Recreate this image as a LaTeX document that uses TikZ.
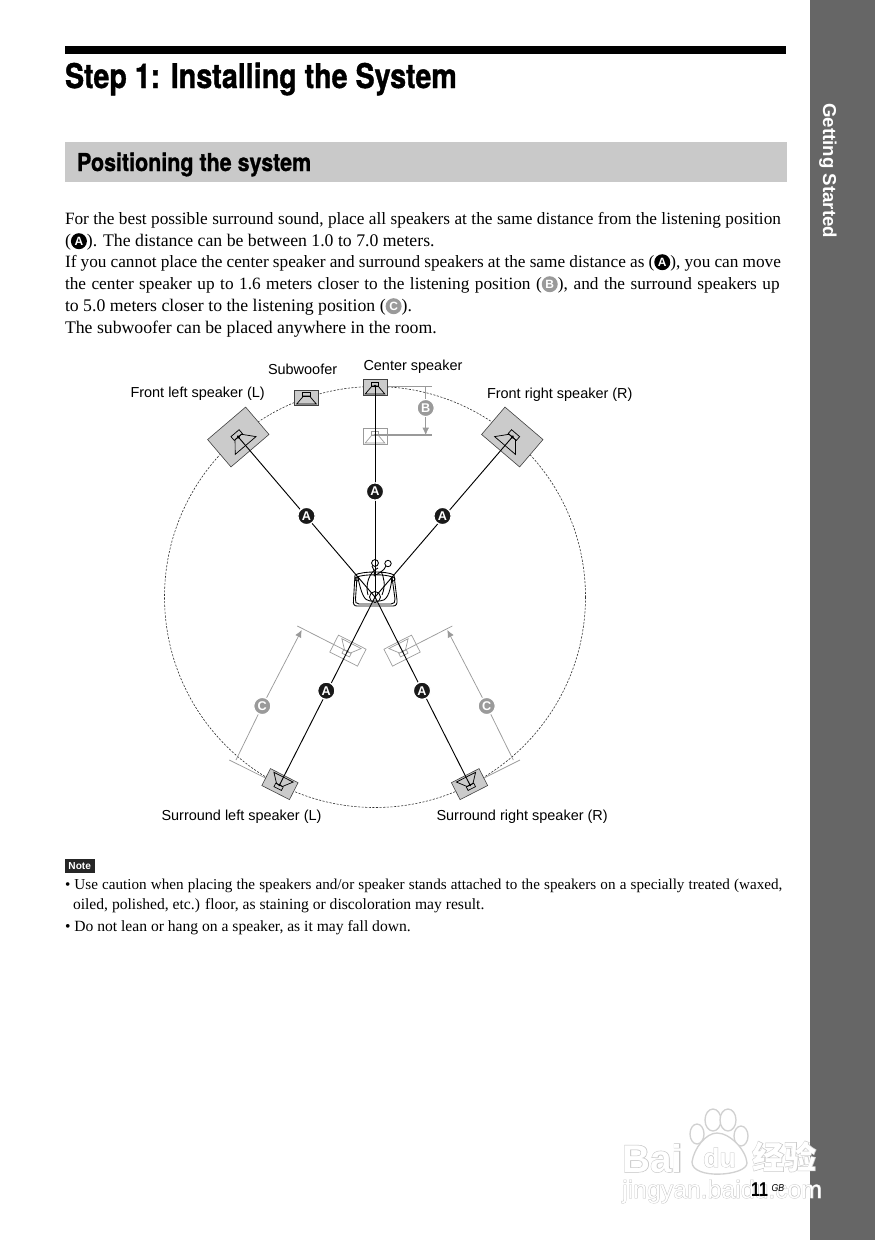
\documentclass[tikz,border=0pt]{standalone}
\usepackage{fontspec}
\usepackage{graphicx}
\setmainfont{Liberation Serif}
\setsansfont{Liberation Sans}
\newfontfamily\heros[FakeBold=1.2]{TeX Gyre Heros Bold}
\newfontfamily\cjk{Noto Sans CJK SC}
\newfontfamily\wmhalo[FakeBold=3]{Liberation Sans}
\newfontfamily\cjkhalo[FakeBold=3]{Noto Sans CJK SC}
\newcommand{\fsz}[1]{\fontsize{#1}{#1}\selectfont}
\newcommand{\inl}[2]{\tikz[baseline=-3.6pt,x=1pt,y=1pt]\node[anchor=center,circle,fill=#1,text=white,inner sep=0pt,outer sep=0pt,minimum size=12pt,font=\sffamily\bfseries\fsz{9pt}]{#2};}
\newcommand{\just}[1]{\makebox[537pt][s]{#1}}
\definecolor{band}{HTML}{666666}
\definecolor{sec}{HTML}{C9C9C9}
\definecolor{spk}{HTML}{CBCBCB}
\definecolor{ghost}{HTML}{9A9A9A}
\usetikzlibrary{arrows.meta}
\tikzset{
  txt/.style={anchor=base west,inner sep=0pt,outer sep=0pt},
  bodytxt/.style={txt,font=\rmfamily\fsz{13.3pt}},
  bodyfit/.style={txt,font=\rmfamily\fsz{12.95pt}},
  notetxt/.style={txt,font=\rmfamily\fsz{11.7pt}},
  notefit/.style={txt,font=\rmfamily\fsz{11.35pt}},
  lab/.style={txt,font=\sffamily\fsz{10.85pt}},
  disc/.style={circle,inner sep=0pt,minimum size=13pt,draw=white,line width=1pt,text=white,font=\sffamily\bfseries\fsz{9.5pt}},
  blackdisc/.style={disc,fill=black!90},
  greydisc/.style={disc,fill=ghost},
  solidbox/.style={draw=black!75,fill=spk,line width=0.45pt},
  solidin/.style={draw=black,line width=0.55pt},
  solidpt/.style={fill=black},
  subbox/.style={solidbox},
  subin/.style={solidin},
  subpt/.style={fill=none},
  ghostbox/.style={draw=ghost,fill=white,line width=0.5pt},
  ghostin/.style={draw=ghost,line width=0.5pt},
  ghostpt/.style={fill=ghost},
  wire/.style={draw=black,line width=0.7pt},
  dim/.style={draw=ghost,line width=0.55pt},
  dimarrow/.style={dim,-{Latex[length=5.5pt,width=5pt]}},
  chair/.style={draw=black,line width=0.65pt},
  wmh/.style={anchor=base west,inner sep=0pt,text=black!22},
  wmw/.style={anchor=base west,inner sep=0pt,text=white},
  paw/.style={draw=black!18,fill=white,line width=1pt}
}
% name, position, rotation, half width, box top, box bottom, inner scale, style prefix
\newcommand{\spkr}[8]{%
  \coordinate (#1) at #2;
  \begin{scope}[shift={(#1)},rotate=#3]
    \path[#8box] (-#4,#5) rectangle (#4,#6);
    \begin{scope}[scale=#7]
      \path[#8in] (-3.8,-3.6) rectangle (3.8,0);
      \path[#8in] (-3,0) -- (-9.8,8) -- (9.8,8) -- (3,0) -- cycle;
      \fill[#8pt] (0,0) circle (1.3);
    \end{scope}
  \end{scope}}
\begin{document}
\begin{tikzpicture}[x=0.75pt,y=-0.75pt]
\useasboundingbox (0,0) rectangle (875,1240);
\fill[white] (0,0) rectangle (875,1240);
% side band
\fill[band] (810,0) rectangle (875,1240);
\node[anchor=base west,inner sep=0pt,text=white,rotate=-90,font=\sffamily\bfseries\fsz{14pt}] (side) at (823,103) {Getting Started};
% heading
\fill[black] (65,46) rectangle (786,53.5);
\node[txt,font=\heros\fsz{25.5pt}] (title) at (65,88) {\scalebox{0.842}[1]{Step 1: Installing the System}};
\fill[sec] (65,142) rectangle (787,182);
\node[txt,font=\heros\fsz{18.5pt}] (section) at (77,171) {\scalebox{0.87}[1]{Positioning the system}};
% body
\node[bodyfit] (l1) at (65,224) {\just{For the best possible surround sound, place all speakers at the same distance from the listening position}};
\node[bodytxt] (l2) at (65,246) {(\inl{black}{A}). The distance can be between 1.0 to 7.0 meters.};
\node[bodyfit] (l3) at (65,267) {\just{If you cannot place the center speaker and surround speakers at the same distance as (\inl{black}{A}), you can move}};
\node[bodyfit] (l4) at (65,289) {\makebox[536pt][s]{the center speaker up to 1.6 meters closer to the listening position (\inl{ghost}{B}), and the surround speakers up}};
\node[bodytxt] (l5) at (65,311) {to 5.0 meters closer to the listening position (\inl{ghost}{C}).};
\node[bodytxt] (l6) at (65,333) {The subwoofer can be placed anywhere in the room.};
% room circle
\coordinate (seat) at (375,597);
\draw[black!80,line width=0.45pt,dash pattern=on 1.6pt off 1.1pt] (seat) circle (210.5);
% ghost speakers
\spkr{gc}{(375,435)}{0}{12}{-7}{9}{1}{ghost}
\spkr{grl}{(347.5,651.5)}{153}{15.5}{-8.5}{10.5}{1.1}{ghost}
\spkr{grr}{(402.5,651.5)}{-153}{15.5}{-8.5}{10.5}{1.1}{ghost}
% anchors for dimension lines
\coordinate (cc) at (375,386);
\coordinate (rl) at (279.5,785);
\coordinate (rr) at (470,785);
\coordinate (bt) at (432,386);
\coordinate (bb) at (432,435);
\coordinate (cltop) at (297.3,626);
\coordinate (clbot) at (229.3,760);
\coordinate (crtop) at (452.3,626);
\coordinate (crbot) at (520,760);
\coordinate (catl) at (301.7,630);
\coordinate (cafl) at (236,760);
\coordinate (catr) at (447.3,630);
\coordinate (cafr) at (513.3,760);
\coordinate (bm) at (425.7,386);
\coordinate (bn) at (425.7,435);
% dimensions
\draw[dim] (cc) -- (bt);
\draw[dim,line width=0.8pt] (gc) -- (bb);
\draw[dim] (grl) -- (cltop);
\draw[dim] (rl) -- (clbot);
\draw[dim] (grr) -- (crtop);
\draw[dim] (rr) -- (crbot);
% real speakers
\spkr{sub}{(306.5,396)}{0}{12}{-6}{9.7}{1}{sub}
\spkr{c}{(375,386)}{0}{12}{-7}{9}{1}{solid}
\spkr{fl}{(238.3,437)}{40.5}{25}{-18}{18}{1.4}{solid}
\spkr{fr}{(512.3,437)}{-40.5}{25}{-18}{18}{1.4}{solid}
\spkr{sl}{(279.5,785)}{153}{15.5}{-8.5}{10.5}{1.1}{solid}
\spkr{sr}{(470,785)}{-153}{15.5}{-8.5}{10.5}{1.1}{solid}
% listener
\draw[chair] (355,575) .. controls (362,571) and (388,571) .. (394,575) -- (397,600) .. controls (397.5,604) and (396,606) .. (393,606) -- (357,606) .. controls (354,606) and (353,604) .. (353.5,600) -- cycle;
\draw[chair] (357,577) .. controls (364,574) and (386,574) .. (392,577) -- (395,599) .. controls (395.5,602) and (394,604) .. (391,604) -- (359,604) .. controls (356,604) and (355,602) .. (355.5,599) -- cycle;
\draw[chair] (358,578) .. controls (361,592) and (364,601) .. (370,601) -- (380,601) .. controls (386,601) and (390,595) .. (392,578);
\draw[chair] (seat) circle (5.5);
\draw[chair] (368,595) .. controls (365,585) and (369,572) .. (378,568);
\draw[chair] (382,595) .. controls (386,585) and (384,578) .. (381,571);
\draw[chair] (374,576) .. controls (379,573) and (384,571) .. (386,566);
\draw[chair] (372,566) .. controls (374,569) and (375,572) .. (374,576);
\draw[chair] (375,563) circle (3.4);
\draw[chair] (388,563.5) circle (3.2);
\draw[chair] (357,579) circle (2);
\draw[chair] (393,579) circle (2);
% wires
\draw[wire] (fl) -- (seat);
\draw[wire] (fr) -- (seat);
\draw[wire] (c) -- (seat);
\draw[wire] (sl) -- (seat);
\draw[wire] (sr) -- (seat);
% labels on wires
\node[blackdisc] (a1) at (306.5,516) {A};
\node[blackdisc] (a2) at (442.5,516) {A};
\node[blackdisc] (a3) at (375,491.5) {A};
\node[blackdisc] (a4) at (326.3,690.7) {A};
\node[blackdisc] (a5) at (422,690.7) {A};
% dimension labels and arrows
\node[greydisc] (b) at (425.7,408) {B};
\node[greydisc] (c1) at (262.3,706) {C};
\node[greydisc] (c2) at (486.7,706) {C};
\draw[dim] (bm) -- (b);
\draw[dimarrow] (b) -- (bn);
\draw[dim] (cafl) -- (c1);
\draw[dimarrow] (c1) -- (catl);
\draw[dim] (cafr) -- (c2);
\draw[dimarrow] (c2) -- (catr);
% speaker names
\node[lab] (n1) at (130.5,397) {Front left speaker (L)};
\node[lab] (n2) at (268,374) {Subwoofer};
\node[lab] (n3) at (363.5,370) {Center speaker};
\node[lab] (n4) at (487,398) {Front right speaker (R)};
\node[lab] (n5) at (161.5,820) {Surround left speaker (L)};
\node[lab] (n6) at (436.5,820) {Surround right speaker (R)};
% note
\fill[black!85] (65,859) rectangle (94.5,873);
\node[anchor=base,inner sep=0pt,text=white,font=\sffamily\bfseries\fsz{7.6pt}] (note) at (79.7,869.5) {Note};
\node[notefit] (b1) at (65,889) {\makebox[538pt][s]{• Use caution when placing the speakers and/or speaker stands attached to the speakers on a specially treated (waxed,}};
\node[notetxt] (b2) at (73,909) {oiled, polished, etc.) floor, as staining or discoloration may result.};
\node[notetxt] (b3) at (65,931) {• Do not lean or hang on a speaker, as it may fall down.};
% watermark
\path[paw] (697,1134) ellipse (7 and 10);
\path[paw] (713,1120) ellipse (8 and 11);
\path[paw] (728,1120) ellipse (8 and 11);
\path[paw] (741,1136) ellipse (7 and 10);
\path[paw] (692,1162) .. controls (694,1148) and (706,1133) .. (717,1133) .. controls (730,1133) and (746,1150) .. (747,1163) .. controls (747,1176) and (692,1180) .. (692,1162) -- cycle;
\node[wmh,font=\wmhalo\bfseries\fsz{29pt}] (wa) at (622,1172) {Bai};
\node[wmw,font=\sffamily\bfseries\fsz{29pt}] (wa2) at (622,1172) {Bai};
\node[wmh,font=\wmhalo\bfseries\fsz{20pt}] (wb) at (703,1167) {du};
\node[wmw,font=\sffamily\bfseries\fsz{20pt}] (wb2) at (703,1167) {du};
\node[wmh,font=\cjkhalo\bfseries\fsz{24pt}] (wc) at (752,1169) {经验};
\node[wmw,font=\cjk\bfseries\fsz{24pt}] (wc2) at (752,1169) {经验};
\node[wmh,font=\wmhalo\fsz{18.6pt}] (wd) at (622,1198) {jingyan.baidu.com};
\node[wmw,font=\sffamily\fsz{18.6pt}] (wd2) at (622,1198) {jingyan.baidu.com};
% page number
\node[txt,text=black,font=\sffamily\bfseries\fsz{15pt}] (pn) at (751,1196) {\scalebox{0.8}[1]{11}};
\node[txt,text=black,font=\sffamily\itshape\fsz{7.5pt}] (gb) at (771.5,1191) {\scalebox{0.87}[1]{GB}};
\end{tikzpicture}
\end{document}
